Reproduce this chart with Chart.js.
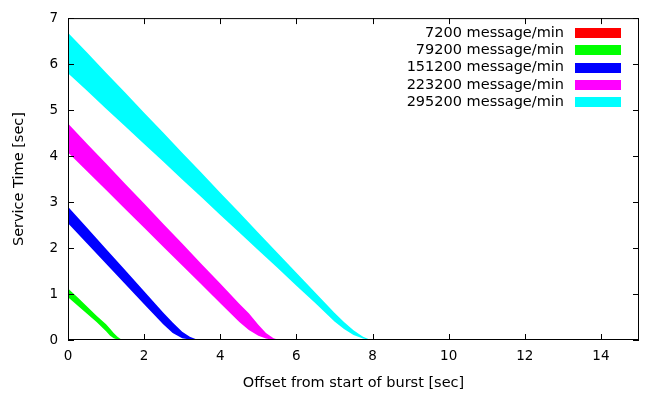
<!DOCTYPE html>
<html>
<head>
	<meta charset="utf-8">
	<title>service time</title>
	<script src="https://cdn.jsdelivr.net/npm/chart.js"></script>
	<style>
		body { margin: 0; background: #fff; }
	</style>
</head>
<body>
	<canvas id="myChart" width="649" height="394"></canvas>

	<script>
    // rates (legend) and colours
    const seriesLabels = ['7200 message/min', '79200 message/min', '151200 message/min', '223200 message/min', '295200 message/min'];
    const seriesColors = ['#ff0000', '#00ff00', '#0000ff', '#ff00ff', '#00ffff'];

    // each band: offsets [sec], upper and lower service time [sec]
    const redOffsets = [0, 0.5];
    const redUpper = [0, 0];
    const redLower = [0, 0];

    const greenOffsets = [0, 0.25, 0.5, 0.75, 1.0, 1.1, 1.2, 1.3, 1.42];
    const greenUpper = [1.12, 0.93, 0.73, 0.53, 0.34, 0.25, 0.15, 0.07, 0];
    const greenLower = [0.93, 0.75, 0.57, 0.39, 0.19, 0.10, 0.04, 0.01, 0];

    const blueOffsets = [0, 0.5, 1, 1.5, 2, 2.5, 2.75, 3.0, 3.2, 3.35, 3.5];
    const blueUpper = [2.90, 2.44, 1.98, 1.52, 1.06, 0.60, 0.38, 0.18, 0.07, 0.02, 0];
    const blueLower = [2.54, 2.10, 1.66, 1.22, 0.78, 0.34, 0.15, 0.04, 0.01, 0, 0];

    const magentaOffsets = [0, 0.5, 1, 1.5, 2, 2.5, 3, 3.5, 4, 4.5, 4.75, 5.0, 5.2, 5.4, 5.55];
    const magentaUpper = [4.71, 4.27, 3.84, 3.40, 2.97, 2.53, 2.10, 1.66, 1.23, 0.79, 0.58, 0.33, 0.15, 0.04, 0];
    const magentaLower = [4.08, 3.67, 3.26, 2.85, 2.44, 2.03, 1.62, 1.21, 0.80, 0.39, 0.22, 0.09, 0.03, 0, 0];

    const cyanOffsets = [0, 0.5, 1, 1.5, 2, 2.5, 3, 3.5, 4, 4.5, 5, 5.5, 6, 6.5, 7, 7.25, 7.5, 7.75, 7.95];
    const cyanUpper = [6.68, 6.25, 5.81, 5.38, 4.94, 4.51, 4.07, 3.64, 3.20, 2.77, 2.33, 1.90, 1.46, 1.03, 0.59, 0.39, 0.21, 0.07, 0];
    const cyanLower = [5.80, 5.42, 5.03, 4.65, 4.26, 3.88, 3.49, 3.11, 2.72, 2.34, 1.95, 1.57, 1.18, 0.80, 0.40, 0.24, 0.11, 0.03, 0];

    const xTicks = [0, 2, 4, 6, 8, 10, 12, 14];
    const yTicks = [0, 1, 2, 3, 4, 5, 6, 7];

    const bands = [
      [redOffsets, redUpper, redLower],
      [greenOffsets, greenUpper, greenLower],
      [blueOffsets, blueUpper, blueLower],
      [magentaOffsets, magentaUpper, magentaLower],
      [cyanOffsets, cyanUpper, cyanLower]
    ];

    const FONT = '"DejaVu Sans", sans-serif';

    // upper line fills down to the lower line that follows it
    const datasets = [];
    bands.forEach(function (b, i) {
      datasets.push({
        label: seriesLabels[i],
        data: b[0].map((x, j) => ({ x: x, y: b[1][j] })),
        fill: '+1',
        backgroundColor: seriesColors[i],
        borderColor: seriesColors[i],
        borderWidth: 0,
        pointRadius: 0,
        tension: 0
      });
      datasets.push({
        label: '',
        data: b[0].map((x, j) => ({ x: x, y: b[2][j] })),
        fill: false,
        borderWidth: 0,
        pointRadius: 0,
        tension: 0
      });
    });

    // gnuplot style frame, inward ticks and key
    const framePlugin = {
      id: 'frame',
      afterDraw(chart) {
        const ctx = chart.ctx;
        const a = chart.chartArea;
        const xs = chart.scales.x, ys = chart.scales.y;
        ctx.save();
        ctx.strokeStyle = '#000';
        ctx.lineWidth = 1;
        ctx.strokeRect(a.left + 0.5, a.top + 0.5, a.right - a.left - 1, a.bottom - a.top - 1);
        ctx.beginPath();
        xTicks.forEach(v => {
          const px = Math.round(xs.getPixelForValue(v)) + 0.5;
          ctx.moveTo(px, a.bottom); ctx.lineTo(px, a.bottom - 6);
          ctx.moveTo(px, a.top); ctx.lineTo(px, a.top + 6);
        });
        yTicks.forEach(v => {
          const py = Math.round(ys.getPixelForValue(v)) + 0.5;
          ctx.moveTo(a.left, py); ctx.lineTo(a.left + 6, py);
          ctx.moveTo(a.right, py); ctx.lineTo(a.right - 6, py);
        });
        ctx.stroke();

        // key, text right aligned, colour box on the right
        ctx.font = '14.5px ' + FONT;
        ctx.textAlign = 'right';
        ctx.textBaseline = 'middle';
        seriesLabels.forEach((lab, i) => {
          const y = a.top + 15 + i * 17.3;
          ctx.fillStyle = '#000';
          ctx.fillText(lab, a.right - 75, y);
          ctx.fillStyle = seriesColors[i];
          ctx.fillRect(a.right - 64, Math.round(y - 5), 46, 10);
        });
        ctx.restore();
      }
    };

    const ctx = document.getElementById('myChart').getContext('2d');
    const myChart = new Chart(ctx, {
      type: 'line',
      data: { datasets: datasets },
      options: {
        responsive: false,
        animation: false,
        devicePixelRatio: 1,
        layout: { padding: { left: 0, right: 10, top: 14, bottom: 0 } },
        plugins: {
          legend: { display: false },
          tooltip: { enabled: false }
        },
        scales: {
          x: {
            type: 'linear',
            min: 0,
            max: 15,
            afterFit: s => { s.height = 54; },
            afterBuildTicks: s => { s.ticks = xTicks.map(v => ({ value: v })); },
            grid: { display: false, drawTicks: false },
            border: { display: false },
            ticks: { color: '#000', padding: 8, font: { family: FONT, size: 13.5 }, maxRotation: 0 },
            title: { display: true, text: 'Offset from start of burst [sec]', color: '#000', font: { family: FONT, size: 14.5 }, padding: { top: 0, bottom: 2 } }
          },
          y: {
            min: 0,
            max: 7,
            afterFit: s => { s.width = 68; },
            afterBuildTicks: s => { s.ticks = yTicks.map(v => ({ value: v })); },
            grid: { display: false, drawTicks: false },
            border: { display: false },
            ticks: { color: '#000', padding: 10, font: { family: FONT, size: 13.5 } },
            title: { display: true, text: 'Service Time [sec]', color: '#000', font: { family: FONT, size: 14.5 }, padding: { top: 11, bottom: 0 } }
          }
        }
      },
      plugins: [framePlugin]
    });
	</script>
</body>
</html>
